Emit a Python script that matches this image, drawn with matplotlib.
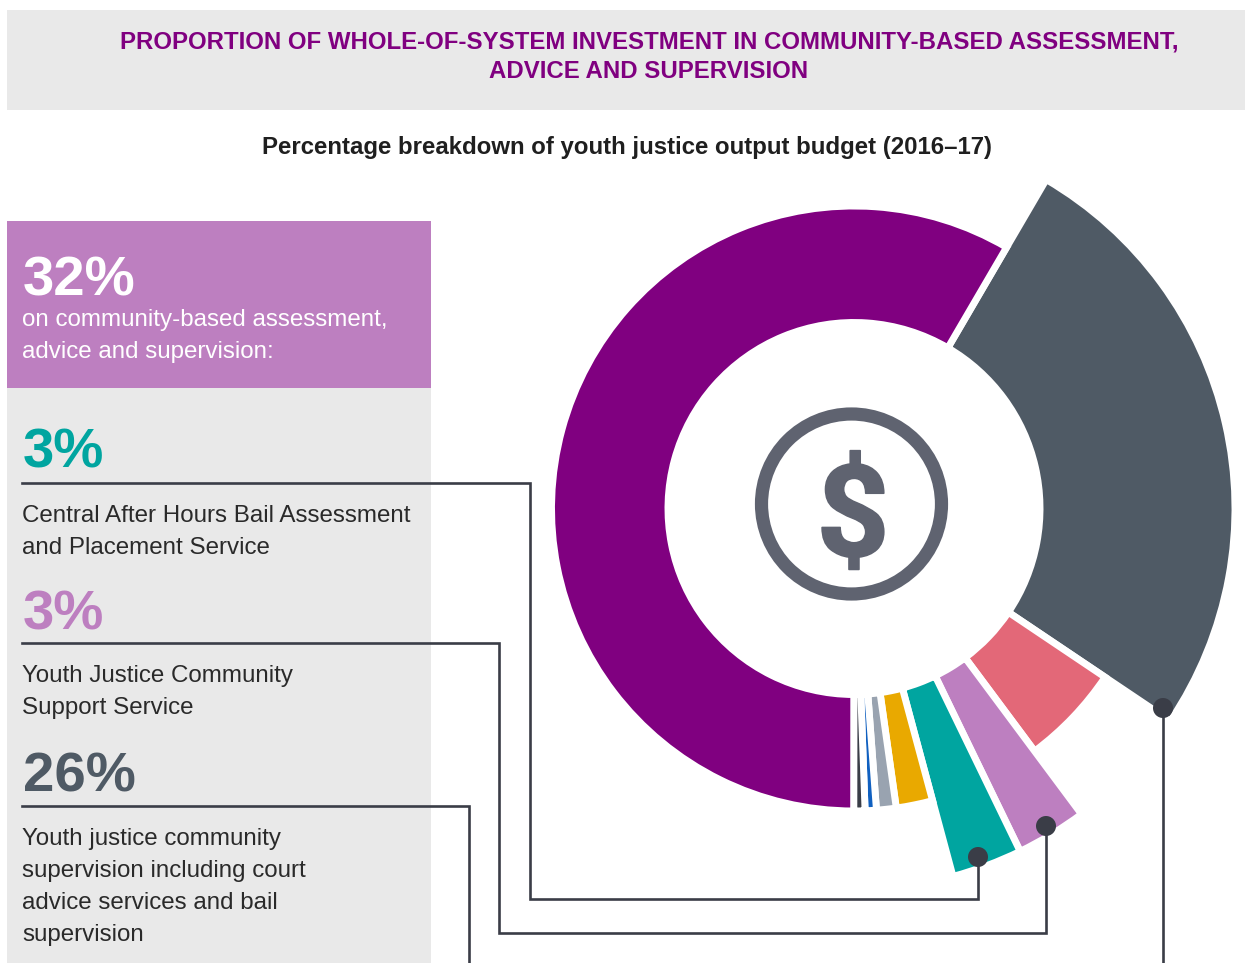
import numpy as np
import matplotlib
matplotlib.use("Agg")
import matplotlib.pyplot as plt
import matplotlib.patheffects as pe
from matplotlib.patches import Circle, Rectangle

plt.rcParams['font.family'] = ['Liberation Sans', 'DejaVu Sans']

# budget shares in percent, clockwise from the top right
budget_items = ['Youth justice community supervision', 'Other programs', 'Youth Justice Community Support Service',
                'Central After Hours Bail Assessment', 'Other services', 'Minor item 1', 'Minor item 2',
                'Minor item 3', 'Custodial services']
budget_share = [26, 5.4, 3, 3, 1.95, 1.05, 0.6, 0.6, 58.4]
outer_radius = [381, 302.5, 381, 381, 302.5, 302.5, 302.5, 302.5, 302.5]
slice_colors = ['#4f5a65', '#e36878', '#bd7fc0', '#00a5a0', '#e9a900', '#99a3b0', '#1060c0', '#3a3d47', '#800080']

header_lines = ['PROPORTION OF WHOLE-OF-SYSTEM INVESTMENT IN COMMUNITY-BASED ASSESSMENT,',
                'ADVICE AND SUPERVISION']
subtitle = 'Percentage breakdown of youth justice output budget (2016\u201317)'

purple = '#800080'
slate = '#4f5a65'
lilac = '#bd7fc0'
teal = '#00a5a0'
panel_grey = '#e9e9e9'
text_col = '#2a2a2a'
line_col = '#3a3d47'
icon_col = '#5f6370'
body_size = 17.35
big_size = 40.6
head_size = 17.27

W, H = 1245, 963
fig = plt.figure(figsize=(W / 100, H / 100), dpi=100, facecolor='white')

# donut, centred at (854, 508.5) on the page
R = 390
cx, cy = 854, 508.5
pol = fig.add_axes([(cx - R) / W, (H - cy - R) / H, 2 * R / W, 2 * R / H], projection='polar', zorder=0)
pol.set_theta_zero_location('N')
pol.set_theta_direction(-1)
widths = np.radians(np.array(budget_share) / 100 * 360)
starts = np.radians(30.3) + np.concatenate([[0], np.cumsum(widths)[:-1]])
inner = 186
pol.bar(starts, np.array(outer_radius) - inner, width=widths, bottom=inner, align='edge',
        color=slice_colors, edgecolor='white', linewidth=5)
pol.set_ylim(0, R)
pol.set_axis_off()

# everything else is laid out in page pixels
ax = fig.add_axes([0, 0, 1, 1], zorder=1)
ax.set_xlim(0, W)
ax.set_ylim(H, 0)
ax.axis('off')
ax.patch.set_alpha(0)

ax.add_patch(Rectangle((7, 10), 1238, 100, fc=panel_grey, ec='none'))
ax.add_patch(Rectangle((7, 388), 424, 575, fc=panel_grey, ec='none'))
ax.add_patch(Rectangle((7, 221), 424, 167, fc=lilac, ec='none'))

ax.text(649, 42, header_lines[0], color=purple, fontsize=head_size, fontweight='bold', ha='center', va='center')
ax.text(649, 72, header_lines[1], color=purple, fontsize=head_size, fontweight='bold', ha='center', va='center')
ax.text(627.5, 147.5, subtitle, color='#1f1f1f', fontsize=head_size, fontweight='bold', ha='center', va='center')

ax.text(23, 295, '32%', color='white', fontsize=big_size, fontweight='bold', va='baseline')
ax.text(22.5, 326, 'on community-based assessment,', color='white', fontsize=body_size, va='baseline')
ax.text(22.5, 358, 'advice and supervision:', color='white', fontsize=body_size, va='baseline')

ax.text(23, 468, '3%', color=teal, fontsize=big_size, fontweight='bold', va='baseline')
ax.text(22.5, 522, 'Central After Hours Bail Assessment', color=text_col, fontsize=body_size, va='baseline')
ax.text(22.5, 554, 'and Placement Service', color=text_col, fontsize=body_size, va='baseline')

ax.text(23, 629, '3%', color=lilac, fontsize=big_size, fontweight='bold', va='baseline')
ax.text(22.5, 682, 'Youth Justice Community', color=text_col, fontsize=body_size, va='baseline')
ax.text(22.5, 714, 'Support Service', color=text_col, fontsize=body_size, va='baseline')

ax.text(23, 792, '26%', color=slate, fontsize=big_size, fontweight='bold', va='baseline')
for y, s in zip([845, 877, 909, 941], ['Youth justice community', 'supervision including court',
                                       'advice services and bail', 'supervision']):
    ax.text(22.5, y, s, color=text_col, fontsize=body_size, va='baseline')

# leader lines from the panel to the slices
ax.plot([22, 530, 530, 978, 978], [483, 483, 899, 899, 857], color=line_col, lw=1.9, solid_joinstyle='miter')
ax.plot([22, 499, 499, 1046, 1046], [643, 643, 933, 933, 826], color=line_col, lw=1.9, solid_joinstyle='miter')
ax.plot([22, 469, 469], [806, 806, 963], color=line_col, lw=1.9, solid_joinstyle='miter')
ax.plot([1163, 1163], [708, 963], color=line_col, lw=1.9)
for x, y in [(978, 857), (1046, 826), (1163, 708)]:
    ax.add_patch(Circle((x, y), 10, fc=line_col, ec='none'))

# dollar icon in the hole
ax.add_patch(Circle((851.5, 504), 90, fc='white', ec=icon_col, lw=9.5))
ax.text(853, 521, '$', color=icon_col, fontsize=92, fontweight='bold', ha='center', va='center',
        family=['Roboto', 'Liberation Sans'],
        path_effects=[pe.withStroke(linewidth=1.2, foreground=icon_col)])

fig.savefig('out.png', dpi=100)
